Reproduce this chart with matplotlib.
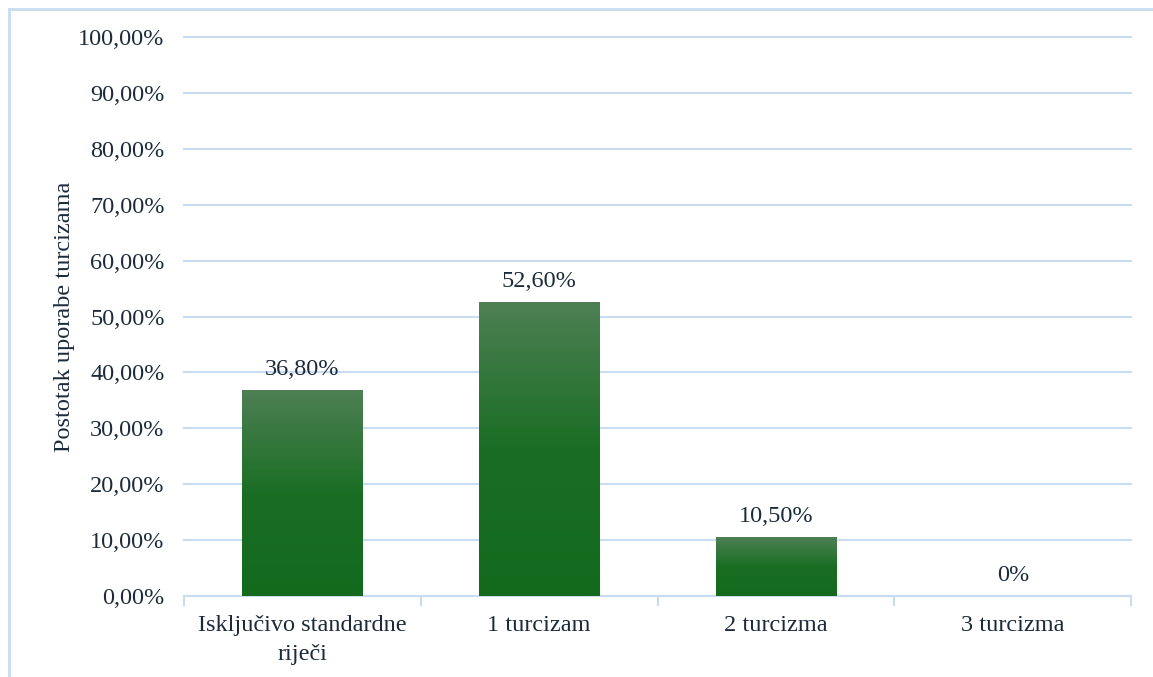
import matplotlib.pyplot as plt
import numpy as np
from matplotlib.colors import LinearSegmentedColormap
from matplotlib.patches import Rectangle

categories = ['Isključivo standardne\nriječi', '1 turcizam', '2 turcizma', '3 turcizma']
values = [36.8, 52.6, 10.5, 0.0]
value_labels = ['36,80%', '52,60%', '10,50%', '0%']
yticks = [0, 10, 20, 30, 40, 50, 60, 70, 80, 90, 100]
ytick_labels = [f'{t},00%' for t in yticks]

plt.rcParams['font.family'] = ['Liberation Serif', 'DejaVu Serif']
text_color = '#1C2B3C'
grid_color = '#C9DCF0'
fs = 17.5

fig = plt.figure(figsize=(11.53, 6.77), dpi=100)
ax = fig.add_axes([0.1596, 0.1196, 0.8215, 0.8257])

# light blue frame round the chart area
fig.patches.append(Rectangle((9 / 1153, -0.1), 1.2, (677 - 9) / 677 + 0.1,
                             transform=fig.transFigure, fill=False,
                             edgecolor=grid_color, linewidth=2))

x = np.arange(len(categories))
bars = ax.bar(x, values, width=0.507, color='none', zorder=3)

# vertical gradient: lighter on top, solid green below
cmap = LinearSegmentedColormap.from_list('g', [(0, '#136A1D'), (0.5, '#1A6E24'), (1, '#4E8054')])
grad = np.linspace(0, 1, 256).reshape(-1, 1)
for b in bars:
    h = b.get_height()
    if h <= 0:
        continue
    x0 = b.get_x()
    im = ax.imshow(grad, cmap=cmap, origin='lower', aspect='auto',
                   extent=[x0, x0 + b.get_width(), 0, h], zorder=3)
    im.set_clip_path(b)

for xi, v, lab in zip(x, values, value_labels):
    ax.text(xi, v + 1.8, lab, ha='center', va='bottom', fontsize=fs, color=text_color)

ax.set_xlim(-0.5, len(categories) - 0.5)
ax.set_ylim(0, 100)
ax.set_yticks(yticks)
ax.set_yticklabels(ytick_labels, fontsize=fs, color=text_color)
ax.set_xticks(x)
ax.set_xticklabels(categories, fontsize=fs, color=text_color, linespacing=1.45)
ax.set_ylabel('Postotak uporabe turcizama', fontsize=fs, color=text_color, labelpad=2)

ax.grid(axis='y', color=grid_color, linewidth=1.5, zorder=0)
for gl in ax.yaxis.get_gridlines():
    gl.set_clip_on(False)
ax.set_axisbelow(True)
for s in ['top', 'right', 'left']:
    ax.spines[s].set_visible(False)
ax.spines['bottom'].set_color(grid_color)
ax.spines['bottom'].set_linewidth(1.5)
ax.tick_params(axis='y', length=0, pad=14)
ax.tick_params(axis='x', length=0, pad=14)

# category boundary tick marks
for b in np.arange(-0.5, len(categories), 1.0):
    ax.plot([b, b], [0, -1.6], color=grid_color, linewidth=1.5, clip_on=False, zorder=2)

fig.savefig('out.png', dpi=100)
